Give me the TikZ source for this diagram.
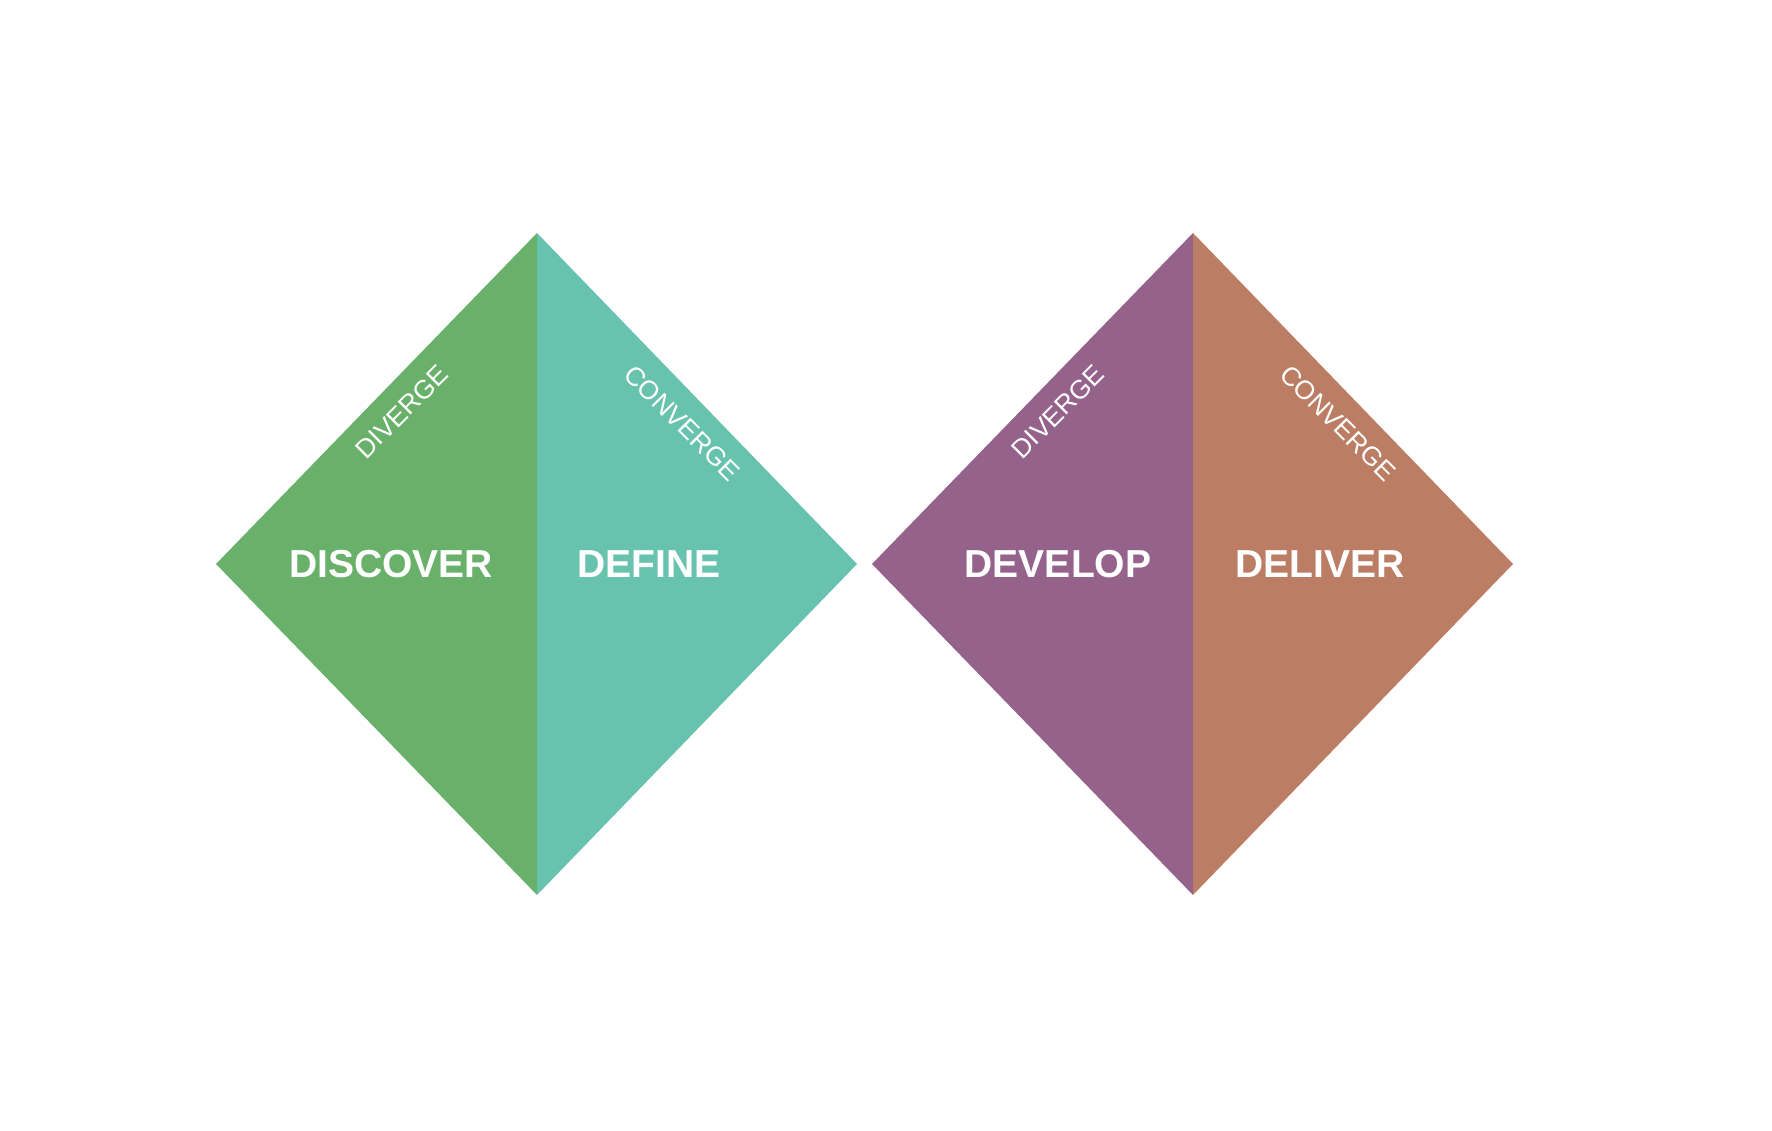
\documentclass[tikz,border=0pt]{standalone}
\usepackage{fontspec}
\setmainfont{Liberation Sans}
\definecolor{discovergreen}{HTML}{69B16A}
\definecolor{defineteal}{HTML}{68C3AE}
\definecolor{developpurple}{HTML}{95628C}
\definecolor{deliverbrown}{HTML}{BB7E65}
\tikzset{
  phase/.style={font=\fontsize{11.1}{13}\selectfont\bfseries,text=white,inner sep=0pt},
  mode/.style={font=\fontsize{7.5}{9}\selectfont,text=white,inner sep=0pt},
}
\begin{document}
\begin{tikzpicture}[x=0.01cm,y=-0.01cm]
  \useasboundingbox (0,0) rectangle (1772,1131);
  % first diamond
  \coordinate (dl1) at (216,564);
  \coordinate (dt1) at (537,233);
  \coordinate (dr1) at (857,564);
  \coordinate (db1) at (537,895);
  % second diamond
  \coordinate (dl2) at (872,564);
  \coordinate (dt2) at (1193,233);
  \coordinate (dr2) at (1513,564);
  \coordinate (db2) at (1193,895);
  \fill[discovergreen] (dl1) -- (dt1) -- (db1) -- cycle;
  \fill[defineteal] (dt1) -- (dr1) -- (db1) -- cycle;
  \fill[developpurple] (dl2) -- (dt2) -- (db2) -- cycle;
  \fill[deliverbrown] (dt2) -- (dr2) -- (db2) -- cycle;
  \node[phase] (discover) at (391,564) {DISCOVER};
  \node[phase] (define) at (649,564) {DEFINE};
  \node[phase] (develop) at (1058,564) {DEVELOP};
  \node[phase] (deliver) at (1320,564) {DELIVER};
  \node[mode,rotate=45] (div1) at (402,412) {DIVERGE};
  \node[mode,rotate=-45] (conv1) at (682,423) {CONVERGE};
  \node[mode,rotate=45] (div2) at (1058,412) {DIVERGE};
  \node[mode,rotate=-45] (conv2) at (1338,423) {CONVERGE};
\end{tikzpicture}
\end{document}
